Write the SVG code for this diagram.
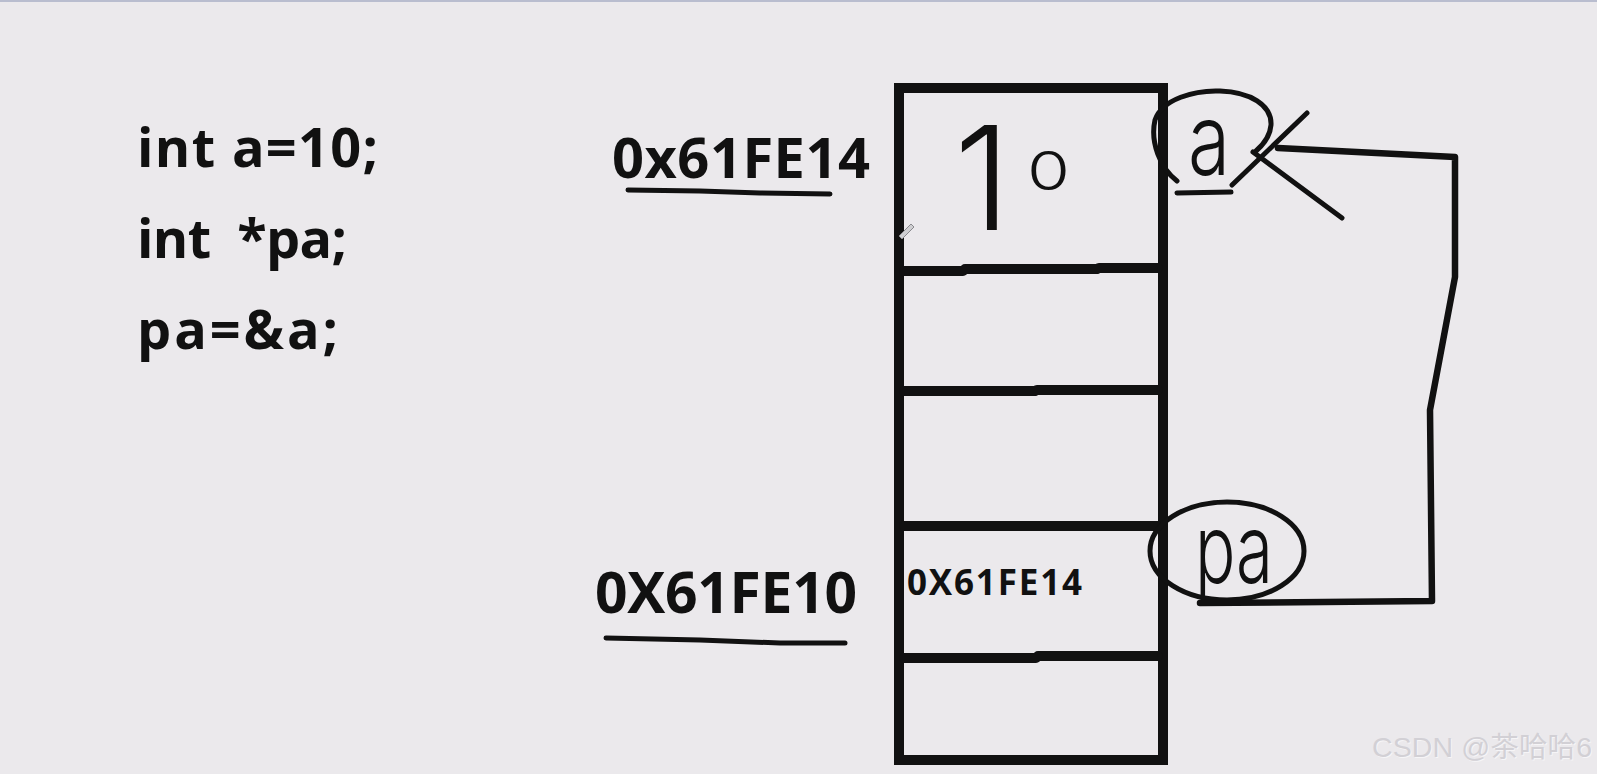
<svg xmlns="http://www.w3.org/2000/svg" width="1597" height="774" viewBox="0 0 1597 774">
  <style>
    .code { font-family: "Open Sans", "Noto Sans", "Liberation Sans", sans-serif; font-weight: 700; fill: #111111; }
    .hand { font-family: "Inter", "Liberation Sans", sans-serif; font-weight: 300; fill: #111111; }
    .ink { fill: none; stroke: #111111; stroke-linecap: round; stroke-linejoin: round; }
    .wm { font-family: "Liberation Sans", "Noto Sans CJK SC", sans-serif; }
  </style>
  <rect x="0" y="0" width="1597" height="774" fill="#ebe9ec"/>
  <rect x="0" y="0" width="1597" height="2" fill="#b9bdcf"/>

  <g id="code">
    <text class="code" x="137" y="167" font-size="54" textLength="241" lengthAdjust="spacing">int a=10;</text>
    <text class="code" x="137" y="258" font-size="54" textLength="210" lengthAdjust="spacing" xml:space="preserve">int  *pa;</text>
    <text class="code" x="137" y="349" font-size="54" textLength="201" lengthAdjust="spacing">pa=&amp;a;</text>
  </g>

  <g id="addr-a">
    <text class="code" x="612" y="178" font-size="56" textLength="258" lengthAdjust="spacing">0x61FE14</text>
    <path class="ink" stroke-width="5" d="M628,190 L700,191 L760,193 L830,194"/>
  </g>

  <g id="addr-pa">
    <text class="code" x="595" y="613" font-size="57" textLength="262" lengthAdjust="spacing">0X61FE10</text>
    <path class="ink" stroke-width="5" d="M606,638 L700,640 L780,643 L845,643"/>
  </g>

  <g id="memory">
    <rect x="899" y="88" width="264" height="672" fill="none" stroke="#111111" stroke-width="10"/>
    <path class="ink" stroke-width="10" stroke-linecap="butt" d="M904,271 L963,271 L965,269 L1097,269 L1099,268 L1158,268"/>
    <path class="ink" stroke-width="10" stroke-linecap="butt" d="M904,391 L1035,391 L1037,390 L1158,390"/>
    <path class="ink" stroke-width="10" stroke-linecap="butt" d="M904,526 L1158,526"/>
    <path class="ink" stroke-width="10" stroke-linecap="butt" d="M904,658 L1036,658 L1038,656 L1158,656"/>
  </g>

  <g id="cell-a">
    <text class="hand" y="230" font-size="144"><tspan x="954">1</tspan></text>
    <text class="hand" x="1027" y="190" font-size="54" font-weight="600" textLength="43" lengthAdjust="spacingAndGlyphs">0</text>
    <path d="M899,236 L911,224 L914,227 L902,239 Z" fill="#cfcfd2" stroke="#8a8a8e" stroke-width="1"/>
  </g>

  <g id="cell-pa">
    <text class="code" x="907" y="595" font-size="35" textLength="175" lengthAdjust="spacing">0X61FE14</text>
  </g>

  <g id="label-a">
    <path class="ink" stroke-width="5" d="M1177,181 C1160,168 1150,142 1155,120 C1162,99 1195,90 1220,91 C1250,92 1272,105 1271,125 C1270,137 1263,145 1256,151"/>
    <text class="hand" x="1188" y="175" font-size="100" font-weight="400" textLength="42" lengthAdjust="spacingAndGlyphs">a</text>
    <path class="ink" stroke-width="5" d="M1232,185 L1307,113"/>
    <path class="ink" stroke-width="5" d="M1253,152 L1342,218"/>
    <path class="ink" stroke-width="5" d="M1177,193 L1231,192"/>
  </g>

  <g id="label-pa">
    <ellipse cx="1227" cy="551" rx="77" ry="49" fill="none" stroke="#111111" stroke-width="5"/>
    <text class="hand" x="1195" y="583" font-size="96" font-weight="400" textLength="78" lengthAdjust="spacingAndGlyphs">pa</text>
  </g>

  <g id="connectors">
    <path class="ink" stroke-width="6.5" d="M1200,603 L1432,601 L1430,410 L1455,277 L1455,157 L1278,148"/>
  </g>

  <g id="watermark" class="wm" font-size="28.5">
    <text x="1373" y="758" fill="#f6f5f7" textLength="220" lengthAdjust="spacing">CSDN @茶哈哈6</text>
    <text x="1372" y="757" fill="#d2d0d5" textLength="220" lengthAdjust="spacing">CSDN @茶哈哈6</text>
  </g>
</svg>
